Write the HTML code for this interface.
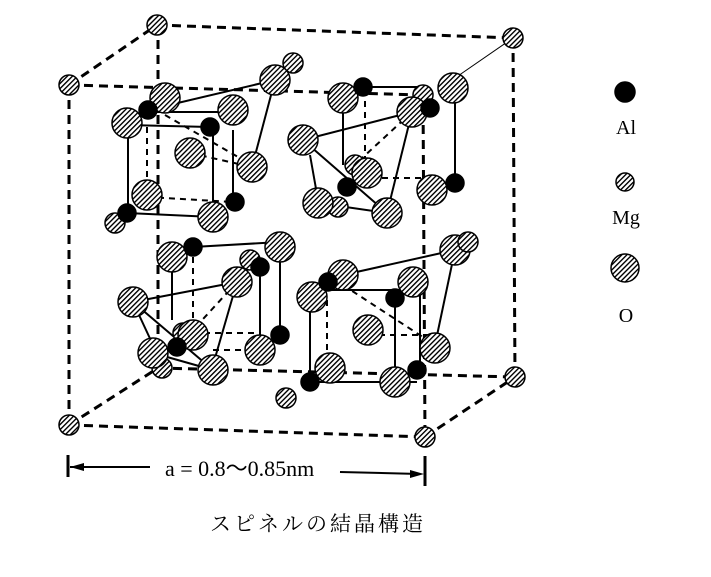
<!DOCTYPE html>
<html><head><meta charset="utf-8"><style>
html,body{margin:0;padding:0;background:#fff;}
svg{display:block;}
</style></head><body>
<svg width="711" height="577" viewBox="0 0 711 577" xmlns="http://www.w3.org/2000/svg">
<defs>
<pattern id="h" patternUnits="userSpaceOnUse" width="3.6" height="3.6" patternTransform="rotate(-45)">
<rect width="3.6" height="3.6" fill="#fff"/><rect width="3.6" height="1.4" fill="#000"/>
</pattern>
</defs>
<g fill="none" stroke="#000">
<g stroke-width="3" stroke-dasharray="9,6">
<line x1="69" y1="85" x2="423" y2="95"/>
<line x1="69" y1="85" x2="69" y2="425"/>
<line x1="69" y1="425" x2="425" y2="437"/>
<line x1="423" y1="95" x2="425" y2="437"/>
<line x1="157" y1="25" x2="513" y2="38"/>
<line x1="158" y1="25" x2="158" y2="368"/>
<line x1="158" y1="368" x2="515" y2="377"/>
<line x1="513" y1="38" x2="515" y2="377"/>
<line x1="69" y1="85" x2="157" y2="25"/>
<line x1="69" y1="425" x2="158" y2="368"/>
<line x1="425" y1="437" x2="515" y2="377"/>
</g>
<line x1="513" y1="38" x2="455" y2="78" stroke-width="1"/>
<g stroke-width="2">
<line x1="148" y1="110" x2="275" y2="80"/>
<line x1="128" y1="125" x2="128" y2="210"/>
<line x1="127" y1="213" x2="213" y2="217"/>
<line x1="213" y1="130" x2="213" y2="205"/>
<line x1="150" y1="112" x2="235" y2="112"/>
<line x1="127" y1="125" x2="210" y2="127"/>
<line x1="233" y1="130" x2="233" y2="200"/>
<line x1="275" y1="80" x2="252" y2="167"/>
<line x1="363" y1="87" x2="423" y2="87"/>
<line x1="303" y1="140" x2="412" y2="112"/>
<line x1="303" y1="140" x2="387" y2="213"/>
<line x1="310" y1="155" x2="318" y2="200"/>
<line x1="412" y1="112" x2="387" y2="213"/>
<line x1="455" y1="88" x2="455" y2="183"/>
<line x1="343" y1="100" x2="343" y2="165"/>
<line x1="318" y1="203" x2="387" y2="213"/>
<line x1="193" y1="247" x2="280" y2="242"/>
<line x1="133" y1="302" x2="237" y2="282"/>
<line x1="280" y1="250" x2="280" y2="330"/>
<line x1="260" y1="265" x2="260" y2="345"/>
<line x1="172" y1="262" x2="172" y2="320"/>
<line x1="237" y1="282" x2="213" y2="365"/>
<line x1="133" y1="302" x2="213" y2="370"/>
<line x1="133" y1="302" x2="153" y2="345"/>
<line x1="153" y1="353" x2="213" y2="370"/>
<line x1="343" y1="275" x2="455" y2="250"/>
<line x1="327" y1="290" x2="413" y2="290"/>
<line x1="310" y1="300" x2="310" y2="380"/>
<line x1="395" y1="298" x2="395" y2="380"/>
<line x1="455" y1="250" x2="435" y2="345"/>
<line x1="310" y1="382" x2="417" y2="382"/>
<line x1="420" y1="290" x2="420" y2="362"/>
</g>
<g stroke-width="2" stroke-dasharray="6,5">
<line x1="147" y1="127" x2="147" y2="180"/>
<line x1="165" y1="115" x2="252" y2="165"/>
<line x1="147" y1="197" x2="233" y2="202"/>
<line x1="190" y1="153" x2="252" y2="167"/>
<line x1="365" y1="90" x2="365" y2="160"/>
<line x1="412" y1="112" x2="360" y2="160"/>
<line x1="360" y1="178" x2="423" y2="178"/>
<line x1="193" y1="257" x2="193" y2="323"/>
<line x1="237" y1="282" x2="193" y2="330"/>
<line x1="193" y1="333" x2="260" y2="333"/>
<line x1="213" y1="350" x2="260" y2="350"/>
<line x1="327" y1="300" x2="327" y2="360"/>
<line x1="343" y1="285" x2="435" y2="345"/>
<line x1="368" y1="335" x2="430" y2="335"/>
</g>
</g>
<g stroke="#000" stroke-width="1.5">
<g fill="url(#h)">
<circle cx="69" cy="85" r="10"/><circle cx="157" cy="25" r="10"/>
<circle cx="513" cy="38" r="10"/><circle cx="515" cy="377" r="10"/>
<circle cx="69" cy="425" r="10"/><circle cx="425" cy="437" r="10"/>
<circle cx="293" cy="63" r="10"/>
<circle cx="275" cy="80" r="15"/>
<circle cx="165" cy="98" r="15"/>
<circle cx="127" cy="123" r="15"/>
<circle cx="233" cy="110" r="15"/>
<circle cx="190" cy="153" r="15"/>
<circle cx="252" cy="167" r="15"/>
<circle cx="147" cy="195" r="15"/>
<circle cx="115" cy="223" r="10"/>
<circle cx="213" cy="217" r="15"/>
<circle cx="343" cy="98" r="15"/>
<circle cx="453" cy="88" r="15"/>
<circle cx="423" cy="95" r="10"/>
<circle cx="412" cy="112" r="15"/>
<circle cx="303" cy="140" r="15"/>
<circle cx="355" cy="165" r="10"/>
<circle cx="338" cy="207" r="10"/>
<circle cx="367" cy="173" r="15"/>
<circle cx="318" cy="203" r="15"/>
<circle cx="387" cy="213" r="15"/>
<circle cx="432" cy="190" r="15"/>
<circle cx="172" cy="257" r="15"/>
<circle cx="280" cy="247" r="15"/>
<circle cx="250" cy="260" r="10"/>
<circle cx="237" cy="282" r="15"/>
<circle cx="133" cy="302" r="15"/>
<circle cx="162" cy="368" r="10"/>
<circle cx="153" cy="353" r="15"/>
<circle cx="183" cy="333" r="10"/>
<circle cx="193" cy="335" r="15"/>
<circle cx="213" cy="370" r="15"/>
<circle cx="260" cy="350" r="15"/>
<circle cx="455" cy="250" r="15"/>
<circle cx="468" cy="242" r="10"/>
<circle cx="343" cy="275" r="15"/>
<circle cx="312" cy="297" r="15"/>
<circle cx="413" cy="282" r="15"/>
<circle cx="368" cy="330" r="15"/>
<circle cx="435" cy="348" r="15"/>
<circle cx="330" cy="368" r="15"/>
<circle cx="395" cy="382" r="15"/>
<circle cx="286" cy="398" r="10"/>
<circle cx="625" cy="182" r="9"/>
<circle cx="625" cy="268" r="14"/>
</g>
<g fill="#000">
<circle cx="148" cy="110" r="9"/><circle cx="210" cy="127" r="9"/>
<circle cx="127" cy="213" r="9"/><circle cx="235" cy="202" r="9"/>
<circle cx="363" cy="87" r="9"/><circle cx="430" cy="108" r="9"/>
<circle cx="347" cy="187" r="9"/><circle cx="455" cy="183" r="9"/>
<circle cx="193" cy="247" r="9"/><circle cx="260" cy="267" r="9"/>
<circle cx="177" cy="347" r="9"/><circle cx="280" cy="335" r="9"/>
<circle cx="328" cy="282" r="9"/><circle cx="395" cy="298" r="9"/>
<circle cx="310" cy="382" r="9"/><circle cx="417" cy="370" r="9"/>
<circle cx="625" cy="92" r="10"/>
</g>
</g>
<g font-family="'Liberation Serif', serif" font-size="20" fill="#000" text-anchor="middle">
<text x="626" y="134">Al</text>
<text x="626" y="224">Mg</text>
<text x="626" y="322">O</text>
</g>
<g stroke="#000" stroke-width="2">
<line x1="68" y1="455" x2="68" y2="477" stroke-width="3"/>
<line x1="425" y1="456" x2="425" y2="486" stroke-width="3"/>
<line x1="70" y1="467" x2="150" y2="467"/>
<line x1="340" y1="472" x2="420" y2="474"/>
</g>
<polygon points="70,467 84,463 84,471" fill="#000"/>
<polygon points="424,474 410,470 410,478" fill="#000"/>
<text x="165" y="476" font-family="'Liberation Serif', serif" font-size="22" fill="#000">a = 0.8～0.85nm</text>
<text x="210" y="531" font-family="'Liberation Serif','Noto Serif CJK SC','Noto Sans CJK JP', serif" font-size="21" letter-spacing="3" fill="#000">スピネルの結晶構造</text>
</svg>
</body></html>
